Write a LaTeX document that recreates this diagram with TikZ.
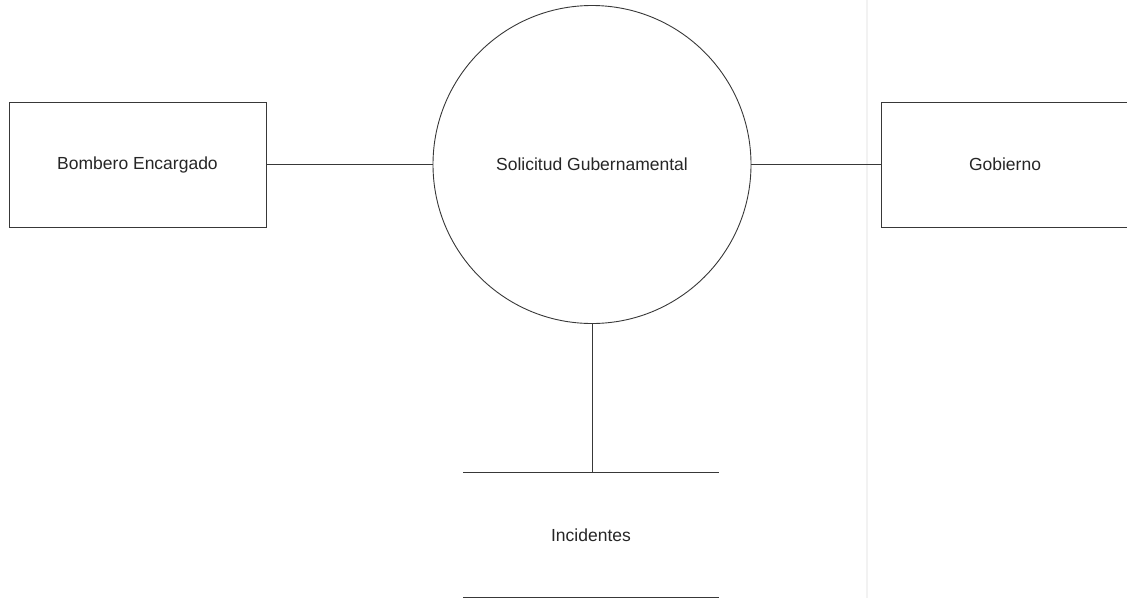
\documentclass[tikz,border=0pt]{standalone}
\usepackage{fontspec}
\setmainfont{Liberation Sans}
\begin{document}
\begin{tikzpicture}[x=1pt,y=-1pt,
  line/.style={draw=black!78,line width=0.9pt},
  entity/.style={line,rectangle,minimum width=257pt,minimum height=125pt,inner sep=0pt},
  process/.style={line,circle,minimum size=318pt,inner sep=0pt},
  label/.style={font=\fontsize{17.5}{20}\selectfont,text=black!85}]
  \useasboundingbox (0,0) rectangle (1127,598);
  \clip (0,0) rectangle (1127,598);
  % faint fold of the scanned page
  \draw[black!5,line width=1.5pt] (867,0) -- (867,598);
  % external entities and process
  \node[entity] (bombero) at (137.5,164.5) {};
  \node[label] at (bombero.center) {Bombero Encargado};
  \node[entity,minimum width=300pt] (gobierno) at (1031,164.5) {};
  \node[label] at (1005,164.5) {Gobierno};
  \node[process] (solicitud) at (592,164.5) {};
  \node[label] at (solicitud.center) {Solicitud Gubernamental};
  % data store
  \coordinate (storeTL) at (463,472);
  \coordinate (storeTR) at (719,472);
  \coordinate (storeBL) at (463,597);
  \coordinate (storeBR) at (719,597);
  \coordinate (storeTop) at (592,472);
  \node[label] (incidentes) at (591,535) {Incidentes};
  \draw[line] (storeTL) -- (storeTR);
  \draw[line] (storeBL) -- (storeBR);
  % connectors
  \draw[line] (bombero.east) -- (solicitud.west);
  \draw[line] (solicitud.east) -- (gobierno.west);
  \draw[line] (solicitud.south) -- (storeTop);
\end{tikzpicture}
\end{document}
